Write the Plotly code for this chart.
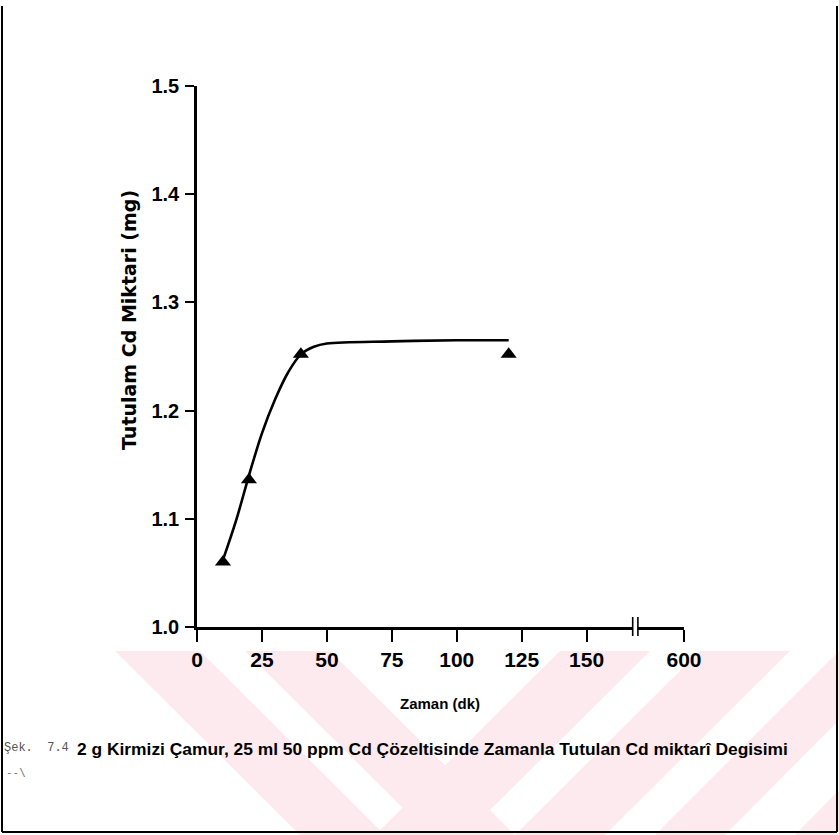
import plotly.graph_objects as go

# ---------------- data ----------------
time_min = [10, 20, 40, 120]                 # Zaman (dk)
cd_mg = [1.060, 1.136, 1.252, 1.252]         # Tutulan Cd miktari (mg)

curve_time = [10, 15, 20, 25, 30, 35, 40, 45, 50, 75, 100, 120]
curve_cd = [1.062, 1.098, 1.140, 1.179, 1.210, 1.235, 1.252, 1.259, 1.262, 1.264, 1.265, 1.265]

x_tick_vals = [0, 25, 50, 75, 100, 125, 150, 187.5]
x_tick_text = ["0", "25", "50", "75", "100", "125", "150", "600"]
axis_break_at = 168.75
y_tick_vals = [1.0, 1.1, 1.2, 1.3, 1.4, 1.5]

# ---------------- layout helpers (pixel -> paper) ----------------
W, H = 839, 835
PL, PR, PT, PB = 197, 684, 86, 627


def xp(px):
    return (px - PL) / (PR - PL)


def yp(py):
    return (PB - py) / (PB - PT)


SANS = "Liberation Sans, Arial, sans-serif"

fig = go.Figure()
fig.add_trace(go.Scatter(
    x=curve_time, y=curve_cd, mode="lines",
    line=dict(color="black", width=2.6, shape="spline", smoothing=1.0),
    hoverinfo="skip", showlegend=False))
fig.add_trace(go.Scatter(
    x=time_min, y=cd_mg, mode="markers",
    marker=dict(symbol="triangle-up", size=14, color="black"),
    showlegend=False))

shapes = []
pink = "#fdeaee"
# watermark stripes (decoration)
wm_polys = [
    [(115, 651), (200, 651), (385, 835), (300, 835)],
    [(245, 651), (330, 651), (515, 835), (430, 835)],
    [(560, 651), (650, 651), (465, 835), (375, 835)],
    [(700, 651), (790, 651), (605, 835), (515, 835)],
    [(839, 651), (839, 720), (725, 835), (655, 835)],
    [(839, 790), (839, 835), (795, 835)],
]
for poly in wm_polys:
    path = "M " + " L ".join(f"{xp(a):.5f},{yp(b):.5f}" for a, b in poly) + " Z"
    shapes.append(dict(type="path", xref="paper", yref="paper", path=path,
                       fillcolor=pink, line=dict(width=0), layer="below"))

# axis break marker
shapes.append(dict(type="rect", xref="x", yref="paper",
                   x0=axis_break_at - 0.9, x1=axis_break_at + 0.9,
                   y0=-0.01, y1=0.01, fillcolor="white", line=dict(width=0), layer="above"))
for dx in (-1.0, 1.0):
    shapes.append(dict(type="line", xref="x", yref="paper",
                       x0=axis_break_at + dx, x1=axis_break_at + dx,
                       y0=yp(636), y1=yp(617), line=dict(color="black", width=1.6)))

# page frame
for (a, b, c, d) in [(2, 6, 2, 832), (2, 832, 837, 832), (837, 6, 837, 832)]:
    shapes.append(dict(type="line", xref="paper", yref="paper",
                       x0=xp(a), y0=yp(b), x1=xp(c), y1=yp(d),
                       line=dict(color="black", width=2)))

annotations = [
    dict(text="Tutulam Cd Miktari (mg)", xref="paper", yref="paper",
         x=xp(129), y=yp(320), xanchor="center", yanchor="middle", textangle=-90, showarrow=False,
         font=dict(family="DejaVu Sans", size=19, color="black", weight="bold")),
    dict(text="Zaman (dk)", xref="paper", yref="paper",
         x=xp(440), y=yp(703), xanchor="center", yanchor="middle", showarrow=False,
         font=dict(family=SANS, size=15, color="black", weight="bold")),
    dict(text="Şek.  7.4", xref="paper", yref="paper",
         x=xp(2), y=yp(748), xanchor="left", yanchor="middle", showarrow=False,
         font=dict(family="Liberation Mono, DejaVu Sans Mono, monospace", size=12, color="#555555")),
    dict(text="2 g Kirmizi Çamur, 25 ml 50 ppm Cd Çözeltisinde Zamanla Tutulan Cd miktarî Degisimi",
         xref="paper", yref="paper", x=xp(75), y=yp(749), xanchor="left", yanchor="middle",
         showarrow=False,
         font=dict(family=SANS, size=17.4, color="black", weight="bold")),
    dict(text="‐-\\", xref="paper", yref="paper", x=xp(4), y=yp(772), xanchor="left",
         yanchor="middle", showarrow=False,
         font=dict(family="DejaVu Sans Mono", size=11, color="#777777")),
]

fig.update_layout(
    width=W, height=H,
    margin=dict(l=PL, r=W - PR, t=PT, b=H - PB, pad=0),
    paper_bgcolor="white", plot_bgcolor="rgba(0,0,0,0)",
    shapes=shapes, annotations=annotations,
    xaxis=dict(range=[0, 187.5], tickvals=x_tick_vals, ticktext=x_tick_text,
               showline=True, linecolor="black", linewidth=2.6,
               ticks="outside", ticklen=12, tickwidth=1.6, tickcolor="black",
               showgrid=False, zeroline=False, ticklabelstandoff=0,
               tickfont=dict(family=SANS, size=21, color="black", weight="bold")),
    yaxis=dict(range=[1.0, 1.5], tickvals=y_tick_vals, tickformat=".1f",
               showline=True, linecolor="black", linewidth=2.6,
               ticks="outside", ticklen=9, tickwidth=1.6, tickcolor="black",
               showgrid=False, zeroline=False, ticklabelstandoff=2,
               tickfont=dict(family=SANS, size=20, color="black", weight="bold")),
)

fig.write_html("out.html", config={"displayModeBar": False},
               post_script="document.body.style.margin='0';document.body.style.overflow='hidden';")
